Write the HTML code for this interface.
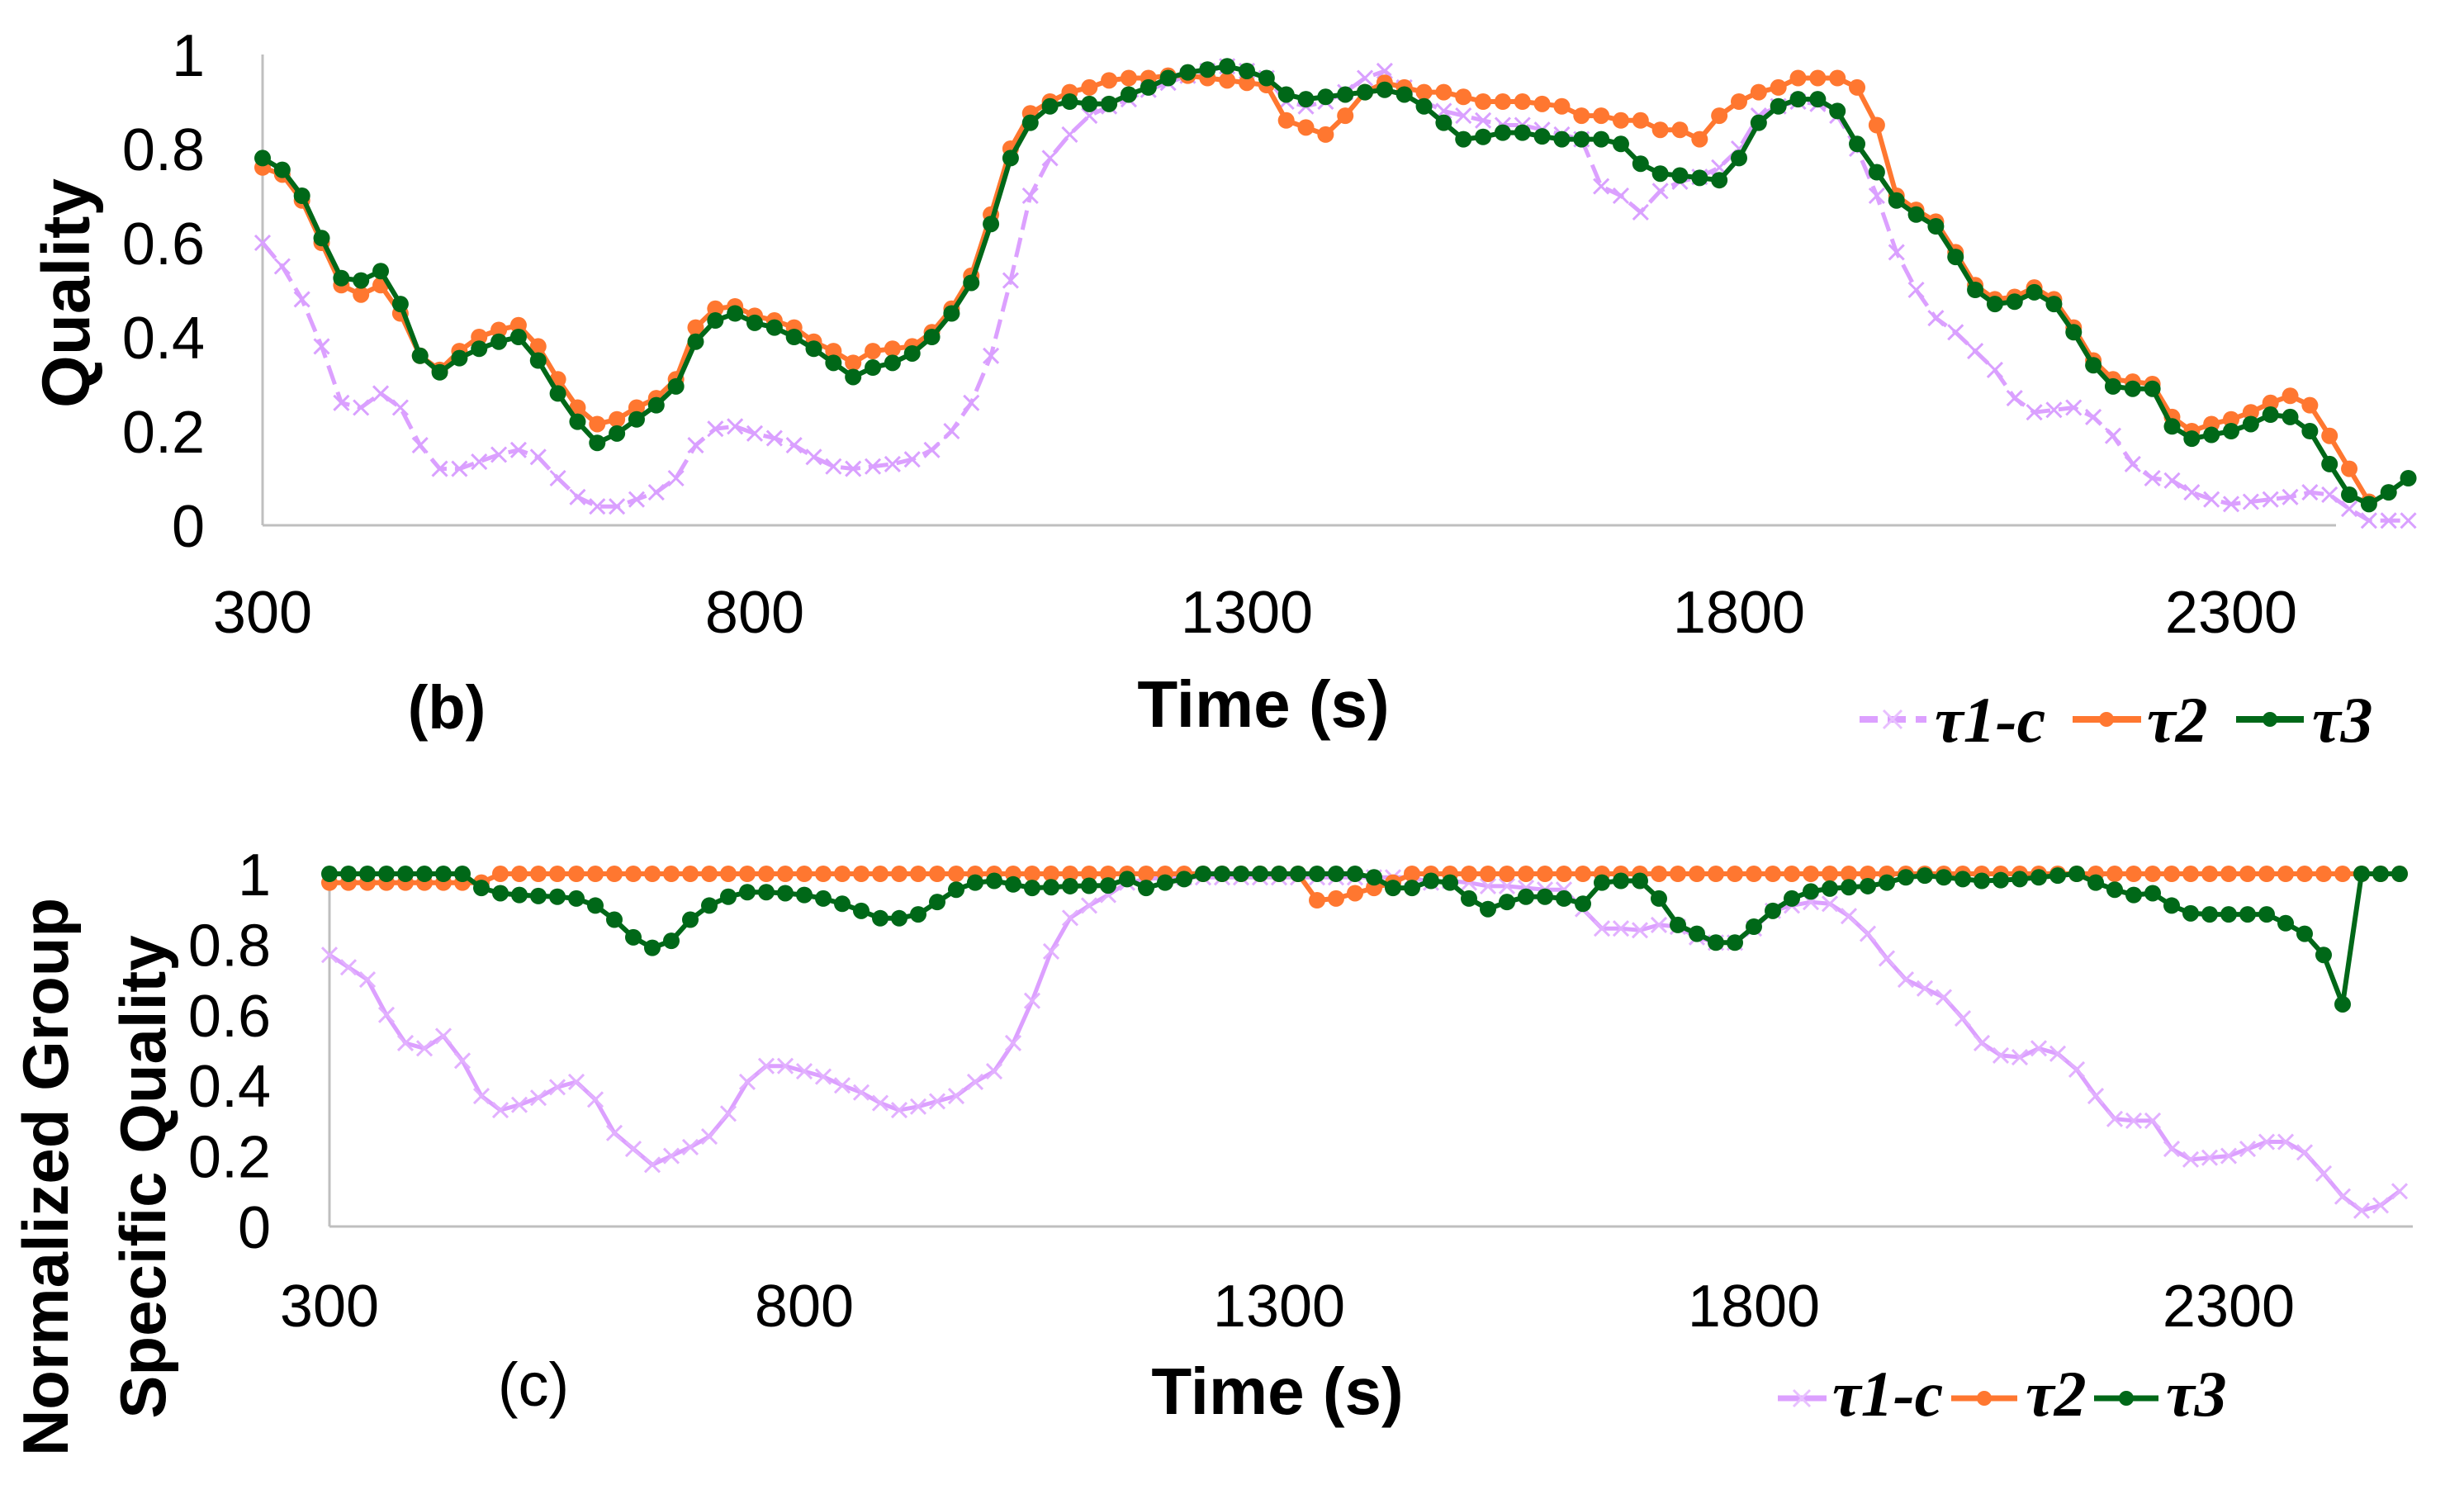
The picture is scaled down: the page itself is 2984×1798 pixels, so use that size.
<!DOCTYPE html>
<html><head><meta charset="utf-8">
<style>
html,body{margin:0;padding:0;background:#fff;}
svg{display:block;}
text{font-family:"Liberation Sans",sans-serif;fill:#000;}
.tick{font-size:72px;}
.bold{font-weight:bold;}
.leg{font-family:"Liberation Serif",serif;font-weight:bold;font-style:italic;font-size:78px;}
</style></head>
<body>
<svg id="chart" width="2984" height="1798" viewBox="0 0 2984 1798" xmlns="http://www.w3.org/2000/svg">
  <g id="panelB"></g>
  <g id="panelC"></g>
  <text class="bold" font-size="82" text-anchor="middle" transform="translate(108,355) rotate(-90)">Quality</text>
  <text class="bold" font-size="74" x="541" y="882" text-anchor="middle">(b)</text>
  <text class="bold" font-size="80" x="1530" y="880" text-anchor="middle">Time (s)</text>
  <text class="bold" font-size="78" text-anchor="middle" transform="translate(82,1425) rotate(-90)">Normalized Group</text>
  <text class="bold" font-size="78" text-anchor="middle" transform="translate(200,1425) rotate(-90)">Specific Quality</text>
  <text font-size="74" x="646" y="1702" text-anchor="middle">(c)</text>
  <text class="bold" font-size="80" x="1547" y="1712" text-anchor="middle">Time (s)</text>
  <g>
    <g>
      <line x1="2252" y1="871" x2="2333" y2="871" stroke="#dca0ff" stroke-width="8" stroke-dasharray="22,12"/>
      <path d="M2281,860 l22,22 M2303,860 l-22,22" stroke="#e8c0ff" stroke-width="3"/>
      <text class="leg" x="2343" y="898">τ1-c</text>
    </g>
    <g>
      <line x1="2510" y1="871" x2="2593" y2="871" stroke="#ff7730" stroke-width="8"/>
      <circle cx="2551" cy="871" r="9" fill="#ff7730"/>
      <text class="leg" x="2600" y="898">τ2</text>
    </g>
    <g>
      <line x1="2708" y1="871" x2="2790" y2="871" stroke="#006818" stroke-width="8"/>
      <circle cx="2749" cy="871" r="9" fill="#006818"/>
      <text class="leg" x="2800" y="898">τ3</text>
    </g>
  </g>
  <g>
    <g>
      <line x1="2153" y1="1693" x2="2212" y2="1693" stroke="#dca0ff" stroke-width="7"/>
      <path d="M2172,1683 l20,20 M2192,1683 l-20,20" stroke="#e8c0ff" stroke-width="3"/>
      <text class="leg" x="2219" y="1714">τ1-c</text>
    </g>
    <g>
      <line x1="2363" y1="1693" x2="2443" y2="1693" stroke="#ff7730" stroke-width="7"/>
      <circle cx="2403" cy="1693" r="9" fill="#ff7730"/>
      <text class="leg" x="2453" y="1714">τ2</text>
    </g>
    <g>
      <line x1="2536" y1="1693" x2="2614" y2="1693" stroke="#006818" stroke-width="7"/>
      <circle cx="2575" cy="1693" r="9" fill="#006818"/>
      <text class="leg" x="2623" y="1714">τ3</text>
    </g>
  </g>
</svg>
<script>
// time samples every 20 s from 300 to 2480
const times = [];
for (let t = 300; t <= 2480; t += 20) times.push(t);
const xTicks = [300, 800, 1300, 1800, 2300];
const yTicksB = [0, 0.2, 0.4, 0.6, 0.8, 1];
const yTickLabelsB = ["0", "0.2", "0.4", "0.6", "0.8", "1"];
const yTicksC = [0, 0.2, 0.4, 0.6, 0.8, 1];
const yTickLabelsC = ["0", "0.2", "0.4", "0.6", "0.8", "1"];

// Panel (b) series
const bTau1c = [.60,.55,.48,.38,.26,.25,.28,.25,.17,.12,.12,.135,.15,.16,.145,.10,.06,.04,.04,.055,
.07,.10,.17,.205,.21,.195,.185,.17,.145,.125,.12,.125,.13,.14,.16,.20,.26,.36,.52,.70,
.78,.83,.87,.89,.905,.925,.94,.955,.965,.975,.965,.95,.90,.89,.90,.92,.95,.965,.93,.90,
.88,.87,.86,.85,.85,.84,.83,.82,.72,.70,.665,.71,.73,.74,.76,.80,.87,.89,.90,.895,
.87,.80,.70,.58,.50,.44,.41,.37,.33,.27,.24,.245,.25,.23,.19,.13,.10,.095,.07,.055,
.045,.05,.055,.06,.07,.065,.035,.01,.01,.01];
const bTau2 = [.76,.745,.69,.60,.51,.49,.51,.45,.36,.33,.37,.40,.415,.425,.38,.31,.25,.215,.225,.25,
.27,.31,.42,.46,.465,.445,.435,.42,.39,.37,.345,.37,.375,.38,.41,.46,.53,.66,.80,.875,
.90,.92,.93,.945,.95,.95,.955,.955,.95,.945,.94,.935,.86,.845,.83,.87,.92,.94,.93,.92,
.92,.91,.90,.90,.90,.895,.89,.87,.87,.86,.86,.84,.84,.82,.87,.90,.92,.93,.95,.95,
.95,.93,.85,.70,.67,.645,.58,.51,.48,.485,.505,.48,.42,.35,.31,.305,.30,.23,.20,.215,
.225,.24,.26,.275,.255,.19,.12,.05,null,null];
const bTau3 = [.78,.755,.70,.61,.525,.52,.54,.47,.36,.325,.355,.375,.39,.40,.35,.28,.22,.175,.195,.225,
.255,.295,.39,.435,.45,.43,.42,.40,.375,.345,.315,.335,.345,.365,.40,.45,.515,.64,.78,.855,
.89,.90,.895,.895,.915,.93,.95,.962,.968,.975,.965,.95,.915,.905,.91,.915,.92,.925,.915,.89,
.855,.82,.825,.834,.834,.826,.82,.82,.82,.81,.768,.747,.743,.738,.733,.78,.855,.89,.905,.905,
.88,.81,.75,.69,.66,.635,.57,.50,.47,.475,.495,.47,.41,.34,.295,.29,.29,.21,.184,.192,
.20,.215,.235,.23,.20,.13,.065,.045,.07,.10];

// Panel (c) series
const cTau1c = [.77,.735,.70,.60,.52,.505,.54,.47,.37,.33,.345,.365,.395,.41,.36,.265,.22,.175,.20,.225,
.255,.32,.41,.455,.455,.44,.425,.40,.38,.35,.33,.34,.355,.37,.41,.44,.52,.64,.78,.875,
.91,.94,.975,.985,.99,.99,.99,.99,.99,.99,.99,.99,.99,.99,.99,.99,.99,.99,.975,.98,
.975,.965,.965,.96,.955,.955,.90,.845,.845,.84,.855,.85,.82,.805,.805,.845,.895,.91,.92,.915,
.88,.83,.76,.70,.675,.65,.59,.52,.485,.48,.505,.49,.445,.37,.305,.30,.30,.22,.19,.195,
.20,.22,.24,.24,.21,.15,.085,.045,.06,.10];
const cTau2 = [.975,.975,.975,.975,.975,.975,.975,.975,.975,1,1,1,1,1,1,1,1,1,1,1,
1,1,1,1,1,1,1,1,1,1,1,1,1,1,1,1,1,1,1,1,
1,1,1,1,1,1,1,1,1,1,1,1,.925,.93,.945,.96,.975,1,1,1,
1,1,1,1,1,1,1,1,1,1,1,1,1,1,1,1,1,1,1,1,
1,1,1,1,1,1,1,1,1,1,1,1,1,1,1,1,1,1,1,1,
1,1,1,1,1,1,1,1,1,1];
const cTau3 = [1,1,1,1,1,1,1,1,
.96,.945,.94,.937,.935,.93,.91,.87,.82,.79,.81,.87,.91,.935,.948,.948,.945,.94,.93,.915,.895,.874,.874,.885,.92,.955,.975,.98,.97,.96,.962,.965,.966,.967,.985,.96,.975,.985,
1,1,1,1,1,1,1,1,1,
.99,.96,.96,.98,.975,.93,.90,.92,.935,.935,.93,.915,.975,.98,.98,.93,.855,.83,.805,.805,.85,.895,.93,.95,.958,
.962,.965,.975,.99,.995,.99,.985,.98,.982,.985,.99,.995,1,.975,.955,.94,.945,.91,.888,.885,.885,.885,.885,.86,.83,.77,.63,1,1,1];

const NS = "http://www.w3.org/2000/svg";
function mk(tag, attrs, parent) {
  const e = document.createElementNS(NS, tag);
  for (const k in attrs) e.setAttribute(k, attrs[k]);
  parent.appendChild(e);
  return e;
}

function drawPanel(g, cfg) {
  const sx = v => cfg.x0 + (v - 300) * cfg.kx;
  const sy = v => cfg.y0 - v * cfg.ky;
  const axY = mk("line", {x1: cfg.x0, y1: cfg.axisTop, x2: cfg.x0, y2: cfg.y0, stroke: "#bfbfbf", "stroke-width": 3}, g);
  
  
  const axX = mk("line", {x1: cfg.x0, y1: cfg.y0, x2: cfg.axisRight, y2: cfg.y0, stroke: "#bfbfbf", "stroke-width": 3}, g);
  
  
  cfg.yTicks.forEach((v, i) => {
    const t = mk("text", {x: cfg.yLabelX, y: sy(v) + 26, "text-anchor": "end", class: "tick"}, g);
    t.textContent = cfg.yLabels[i];
    
    
  });
  xTicks.forEach(v => {
    const t = mk("text", {x: sx(v), y: cfg.xLabelY, "text-anchor": "middle", class: "tick"}, g);
    t.textContent = String(v);
    
    
  });
  cfg.series.forEach(s => {
    const sg = mk("g", {}, g);
    
    
    let d = "";
    let pen = false;
    s.vals.forEach((v, i) => {
      if (v === null || v === undefined || i >= times.length) { pen = false; return; }
      d += (pen ? "L" : "M") + sx(times[i]).toFixed(1) + "," + sy(v).toFixed(1);
      pen = true;
    });
    const ln = mk("path", {d: d, fill: "none", stroke: s.color, "stroke-width": s.w, "stroke-linejoin": "round"}, sg);
    if (s.dash) ln.setAttribute("stroke-dasharray", s.dash);
    
    
    s.vals.forEach((v, i) => {
      if (v === null || v === undefined || i >= times.length) return;
      const x = sx(times[i]), y = sy(v);
      let m;
      if (s.marker === "x") {
        m = mk("path", {d: `M${x-9},${y-9}L${x+9},${y+9}M${x+9},${y-9}L${x-9},${y+9}`, stroke: s.mcolor, "stroke-width": 3, fill: "none"}, sg);
      } else {
        m = mk("circle", {cx: x, cy: y, r: s.r, fill: s.color}, sg);
      }
      
      
    });
  });
}

drawPanel(document.getElementById("panelB"), {
  p: "b", x0: 318, kx: 1.192, y0: 636, ky: 570, axisTop: 66, axisRight: 2829,
  yLabelX: 248, xLabelY: 766, yTicks: yTicksB, yLabels: yTickLabelsB,
  series: [
    {name: "tau1c", vals: bTau1c, color: "#dca0ff", mcolor: "#d9a0ff", w: 5, dash: "24,10", marker: "x"},
    {name: "tau2", vals: bTau2, color: "#ff7730", w: 6, r: 10},
    {name: "tau3", vals: bTau3, color: "#006818", w: 6, r: 10}
  ]
});
drawPanel(document.getElementById("panelC"), {
  p: "c", x0: 399, kx: 1.15, y0: 1485, ky: 427, axisTop: 1077, axisRight: 2922,
  yLabelX: 328, xLabelY: 1606, yTicks: yTicksC, yLabels: yTickLabelsC,
  series: [
    {name: "tau1c", vals: cTau1c, color: "#dca0ff", mcolor: "#e2b0ff", w: 5, marker: "x"},
    {name: "tau2", vals: cTau2, color: "#ff7730", w: 6, r: 10},
    {name: "tau3", vals: cTau3, color: "#006818", w: 6, r: 10}
  ]
});
</script>
</body></html>
